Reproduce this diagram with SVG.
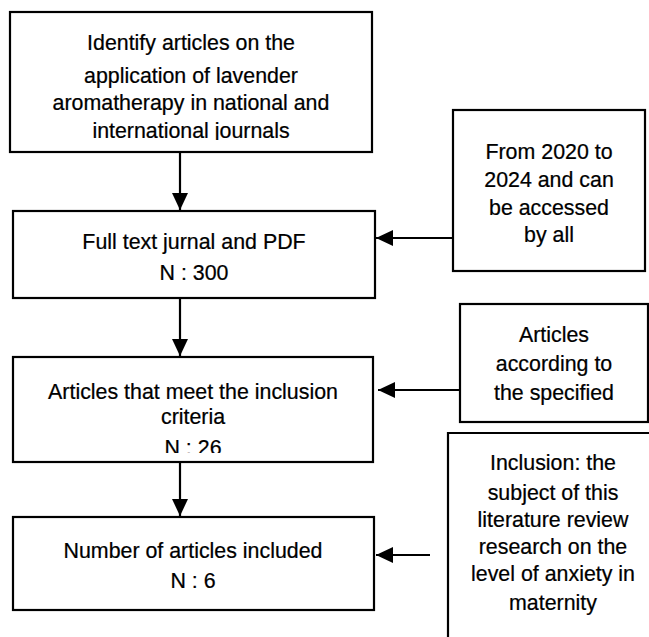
<svg xmlns="http://www.w3.org/2000/svg" width="649" height="637" viewBox="0 0 649 637">
<style>
.box{fill:#fff;stroke:#000;stroke-width:2.2}
.t{font-family:"Liberation Sans",Arial,sans-serif;font-size:23px;fill:#000;text-anchor:middle;stroke:#000;stroke-width:0.25}
.c{stroke:#000;stroke-width:2.2;fill:none}
</style>
<defs>
<marker id="ah" markerUnits="userSpaceOnUse" markerWidth="18" markerHeight="16" refX="17" refY="8" orient="auto">
<path d="M0,0 L17,8 L0,16 Z" fill="#000"/>
</marker>
<clipPath id="clip1"><rect x="0" y="0" width="400" height="140"/></clipPath>
<clipPath id="clip3"><rect x="0" y="350" width="400" height="103"/></clipPath>
</defs>
<rect width="649" height="637" fill="#fff"/>
<g id="connectors">
<line class="c" x1="180" y1="153" x2="180" y2="210" marker-end="url(#ah)"/>
<line class="c" x1="180" y1="299" x2="180" y2="356" marker-end="url(#ah)"/>
<line class="c" x1="180" y1="463" x2="180" y2="516" marker-end="url(#ah)"/>
<line class="c" x1="457" y1="238" x2="376" y2="238" marker-end="url(#ah)"/>
<line class="c" x1="459" y1="390" x2="378" y2="390" marker-end="url(#ah)"/>
<line class="c" x1="430" y1="555" x2="376" y2="555" marker-end="url(#ah)"/>
</g>
<g id="node1">
<rect class="box" x="10" y="12" width="362" height="140"/>
<g clip-path="url(#clip1)">
<g transform="translate(191,0) scale(0.93,1)">
<text class="t" x="0" y="50">Identify articles on the</text>
<text class="t" x="0" y="83">application of lavender</text>
<text class="t" x="0" y="110">aromatherapy in national and</text>
<text class="t" x="0" y="138">international journals</text>
</g>
</g>
</g>
<g id="node2">
<rect class="box" x="13" y="211" width="362" height="87"/>
<g transform="translate(194,0) scale(0.93,1)">
<text class="t" x="0" y="249">Full text jurnal and PDF</text>
<text class="t" x="0" y="280">N : 300</text>
</g>
</g>
<g id="node3">
<rect class="box" x="13" y="357" width="360" height="105"/>
<g clip-path="url(#clip3)">
<g transform="translate(193,0) scale(0.93,1)">
<text class="t" x="0" y="399">Articles that meet the inclusion</text>
<text class="t" x="0" y="424">criteria</text>
<text class="t" x="0" y="455">N : 26</text>
</g>
</g>
</g>
<g id="node4">
<rect class="box" x="13" y="517" width="361" height="93"/>
<g transform="translate(193,0) scale(0.93,1)">
<text class="t" x="0" y="558">Number of articles included</text>
<text class="t" x="0" y="588">N : 6</text>
</g>
</g>
<g id="side1">
<rect class="box" x="453" y="110" width="192" height="161"/>
<g transform="translate(549,0) scale(0.93,1)">
<text class="t" x="0" y="159">From 2020 to</text>
<text class="t" x="0" y="187">2024 and can</text>
<text class="t" x="0" y="215">be accessed</text>
<text class="t" x="0" y="242">by all</text>
</g>
</g>
<g id="side2">
<rect class="box" x="460" y="304" width="188" height="118"/>
<g transform="translate(554,0) scale(0.93,1)">
<text class="t" x="0" y="342">Articles</text>
<text class="t" x="0" y="371">according to</text>
<text class="t" x="0" y="400">the specified</text>
</g>
</g>
<g id="side3">
<path class="box" d="M448,640 V433 H652"/>
<g transform="translate(553,0) scale(0.93,1)">
<text class="t" x="0" y="470">Inclusion: the</text>
<text class="t" x="0" y="500">subject of this</text>
<text class="t" x="0" y="527">literature review</text>
<text class="t" x="0" y="554">research on the</text>
<text class="t" x="0" y="581">level of anxiety in</text>
<text class="t" x="0" y="610">maternity</text>
</g>
</g>
</svg>
